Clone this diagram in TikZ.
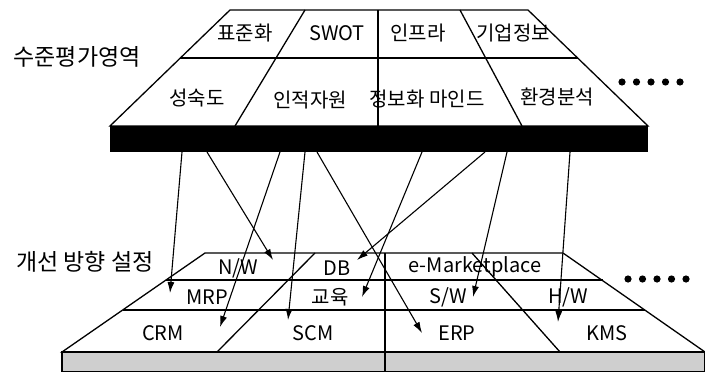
\documentclass[tikz,border=0pt]{standalone}
\usepackage{fontspec}
\setmainfont{Noto Sans CJK KR}
\usetikzlibrary{arrows.meta}

\begin{document}
\begin{tikzpicture}[x=1pt, y=-1pt,
  every node/.style={inner sep=0pt, font=\fontsize{20}{24}\selectfont},
  title/.style={font=\fontsize{23}{27}\selectfont},
  line/.style={draw=black, line width=1.3pt},
  arr/.style={draw=black, line width=1.1pt, -{Latex[length=11pt, width=7pt]}}]
				\useasboundingbox (0,0) rectangle (705,372);
				
				% upper block
				\coordinate (ul) at (230,10);
				\coordinate (ur) at (528,10);
				\coordinate (ubl) at (110,126);
				\coordinate (ubr) at (648,126);
				\fill[black] (110,126) rectangle (648,152);
				\path[line] (ul) -- (ur) -- (ubr) -- (ubl) -- cycle;
				\path[line] (180,58) -- (578,58);
				\path[line] (305,10) -- (235,126);
				\path[line] (378,10) -- (378,126);
				\path[line] (460,10) -- (522,126);
				
				\node (pyo) at (245,33){표준화};
				\node (swot) at (337,33){SWOT};
				\node (infra) at (418,33){인프라};
				\node (giup) at (513,33){기업정보};
				\node (seong) at (197,98){성숙도};
				\node (injeok) at (310,100){인적자원};
				\node (mind) at (427,99){정보화 마인드};
				\node (hwan) at (557,97){환경분석};
				\node[title] (level) at (77,57){수준평가영역};
				
				% lower block
				\coordinate (ll) at (205,253);
				\coordinate (lr) at (563,253);
				\coordinate (lbl) at (62,352);
				\coordinate (lbr) at (705,352);
				\path[line, fill=gray!38] (62,352) rectangle (705,372);
				\path[line] (ll) -- (lr) -- (lbr) -- (lbl) -- cycle;
				\path[line] (166,280) -- (603,280);
				\path[line] (123,310) -- (645,310);
				\path[line] (315,253) -- (217,352);
				\path[line] (385,253) -- (385,372);
				\path[line] (472,253) -- (560,352);
				
				\node (nw) at (238,268){N/W};
				\node (db) at (337,268){DB};
				\node (emarket) at (475,267){e-Marketplace};
				\node (mrp) at (207,297){MRP};
				\node (edu) at (330,297){교육};
				\node (sw) at (448,297){S/W};
				\node (hw) at (568,297){H/W};
				\node (crm) at (163,333){CRM};
				\node (scm) at (313,333){SCM};
				\node (erp) at (457,333){ERP};
				\node (kms) at (607,333){KMS};
				\node[title] (plan) at (85,262){개선 방향 설정};
				
				\foreach \i in {0,...,4} {
					\fill[black] (622+14.5*\i,82) circle (3.6);
					\fill[black] (628+14.5*\i,279) circle (3.6);
				}
				
				% arrows
				\coordinate (s1) at (182,152);
				\coordinate (s2) at (207,152);
				\coordinate (s3) at (280,152);
				\coordinate (s4) at (305,152);
				\coordinate (s5) at (317,152);
				\coordinate (s6) at (422,152);
				\coordinate (s7) at (485,152);
				\coordinate (s8) at (507,152);
				\coordinate (s9) at (570,152);
				\coordinate (e1) at (170,293);
				\coordinate (e2) at (273,260);
				\coordinate (e3) at (220,327);
				\coordinate (e4) at (288,320);
				\coordinate (e5) at (422,333);
				\coordinate (e6) at (362,297);
				\coordinate (e7) at (357,260);
				\coordinate (e8) at (473,297);
				\coordinate (e9) at (558,322);
				
				\path[arr] (s1) -- (e1);
				\path[arr] (s2) -- (e2);
				\path[arr] (s3) -- (e3);
				\path[arr] (s4) -- (e4);
				\path[arr] (s5) -- (e5);
				\path[arr] (s6) -- (e6);
				\path[arr] (s7) -- (e7);
				\path[arr] (s8) -- (e8);
				\path[arr] (s9) -- (e9);
\end{tikzpicture}
\end{document}
